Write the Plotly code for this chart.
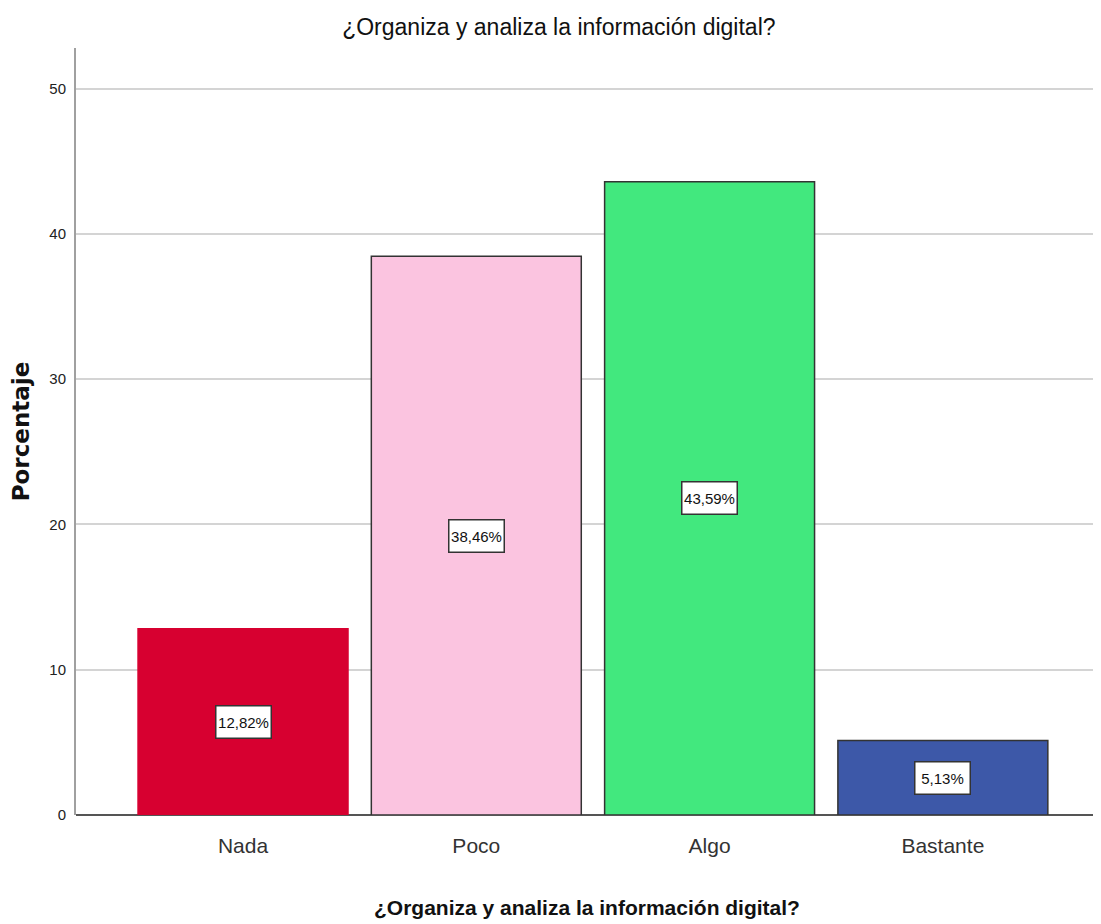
import plotly.graph_objects as go

categories = ["Nada", "Poco", "Algo", "Bastante"]
values = [12.82, 38.46, 43.59, 5.13]
labels = ["12,82%", "38,46%", "43,59%", "5,13%"]
colors = ["#D70030", "#FBC4E0", "#42E87E", "#3D58A8"]
outline = ["#D70030", "#333333", "#333333", "#333333"]
tick_vals = [0, 10, 20, 30, 40, 50]
title = "¿Organiza y analiza la información digital?"

SANS = "Liberation Sans, Arial, sans-serif"

fig = go.Figure()
fig.add_trace(go.Bar(
    x=categories, y=values,
    marker=dict(color=colors, line=dict(color=outline, width=1.5)),
    width=0.9, hoverinfo="skip", showlegend=False,
))

for c, v, t in zip(categories, values, labels):
    fig.add_annotation(
        x=c, y=v / 2, text=t, showarrow=False,
        font=dict(family=SANS, size=15, color="#111111"),
        width=52, height=29,
        bgcolor="white", bordercolor="#333333", borderwidth=1.5, borderpad=1,
    )

fig.update_layout(
    width=1093, height=916,
    margin=dict(l=68, r=3, t=40, b=109),
    paper_bgcolor="white", plot_bgcolor="white",
    title=dict(text=title, x=0.504, xanchor="center", y=0.979, yanchor="middle",
               font=dict(family=SANS, size=23, color="#111111")),
    font=dict(family=SANS, color="#111111"),
)
fig.update_xaxes(
    range=[-0.716, 3.665], showgrid=False, showline=False, zeroline=False,
    tickfont=dict(family=SANS, size=21, color="#333333"), ticks="", ticklabelstandoff=16,
    title=dict(text="<b>" + title + "</b>", font=dict(family=SANS, size=21, color="#111111"), standoff=44),
)
fig.update_yaxes(
    range=[0, 52.8], tickvals=tick_vals, showgrid=True, gridcolor="#D4D4D4", gridwidth=2,
    showline=True, linecolor="#A0A0A0", linewidth=2, zeroline=True, zerolinecolor="#555555", zerolinewidth=1.5,
    ticks="", ticklabelstandoff=5,
    tickfont=dict(family=SANS, size=15, color="#222222"),
    title=dict(text="<b>Porcentaje</b>", font=dict(family="DejaVu Sans, sans-serif", size=23, color="#111111"), standoff=14),
)

fig.write_html("out.html")
